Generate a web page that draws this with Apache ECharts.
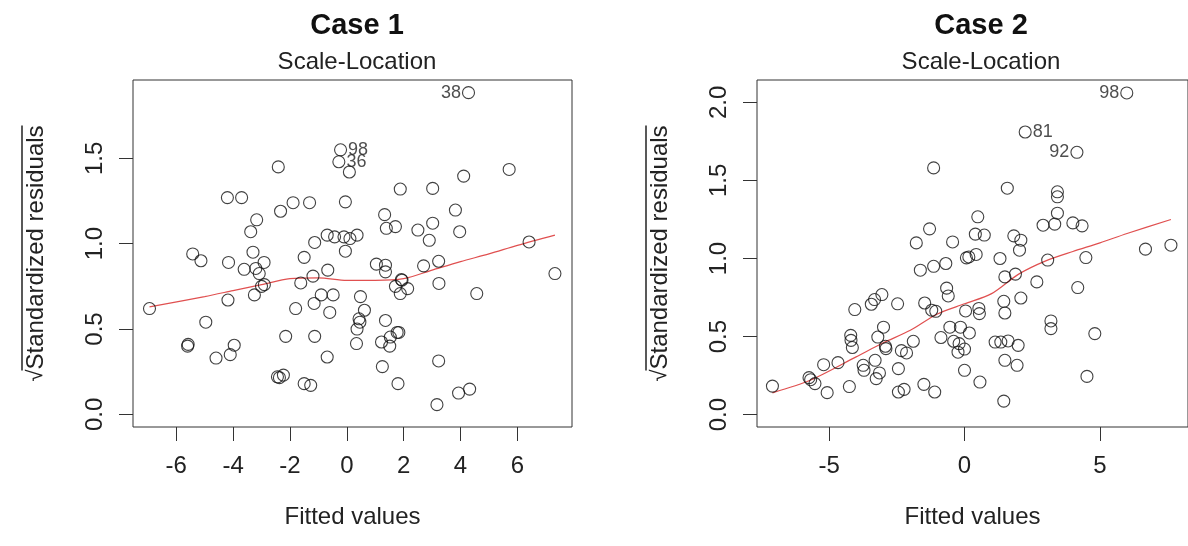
<!DOCTYPE html>
<html>
<head>
<meta charset="utf-8">
<script src="https://cdn.jsdelivr.net/npm/echarts@6/dist/echarts.min.js"></script>
<style>
  html, body { margin: 0; padding: 0; background: #fff; }
  #chart { width: 1188px; height: 546px; }
</style>
</head>
<body>
<div id="chart"></div>
<script>
// Case 1: fitted values vs sqrt(|standardized residuals|)
const case1Fitted = [-6.94, -5.60, -5.58, -5.42, -5.13, -4.96, -4.60, -4.20, -4.18, -4.16,
  -4.10, -3.96, -3.70, -3.61, -3.38, -3.30, -3.25, -3.20, -3.17, -3.08,
  -2.91, -2.90, -3.00, -2.44, -2.37, -2.23, -2.41, -2.33, -2.15, -1.89,
  -1.80, -1.62, -1.50, -1.50, -1.31, -1.27, -1.19, -1.15, -1.13, -1.13,
  -0.90, -0.69, -0.69, -0.67, -0.60, -0.48, -0.43, -0.22, -0.28, 0.09,
  -0.10, -0.05, -0.05, 0.11, 0.36, 0.48, 0.62, 0.43, 0.46, 0.36,
  0.34, 1.04, 1.36, 1.36, 1.33, 1.39, 1.71, 1.36, 1.22, 1.53,
  1.51, 1.77, 1.83, 1.25, 1.80, 1.71, 1.94, 1.88, 1.92, 2.14,
  1.88, 2.50, 2.70, 2.90, 3.02, 3.02, 3.23, 3.24, 3.23, 3.17,
  3.82, 3.97, 3.93, 4.11, 4.28, 4.32, 4.57, 5.71, 6.41, 7.32];
const case1Resid = [0.62, 0.40, 0.41, 0.94, 0.90, 0.54, 0.33, 1.27, 0.67, 0.89,
  0.35, 0.405, 1.27, 0.85, 1.07, 0.95, 0.70, 0.855, 1.14, 0.825,
  0.89, 0.76, 0.75, 0.22, 0.215, 0.23, 1.45, 1.19, 0.457, 1.24,
  0.62, 0.77, 0.92, 0.18, 1.24, 0.17, 0.81, 0.65, 1.007, 0.457,
  0.70, 1.05, 0.336, 0.845, 0.597, 0.70, 1.04, 1.55, 1.48, 1.42,
  1.04, 1.245, 0.956, 1.03, 1.05, 0.69, 0.61, 0.56, 0.54, 0.50,
  0.415, 0.88, 0.874, 0.835, 1.17, 1.09, 1.10, 0.55, 0.424, 0.453,
  0.40, 0.48, 0.48, 0.28, 0.18, 0.75, 0.786, 0.708, 0.79, 0.737,
  1.32, 1.08, 0.87, 1.02, 1.12, 1.324, 0.897, 0.767, 0.313, 0.057,
  1.197, 1.07, 0.125, 1.396, 1.885, 0.148, 0.708, 1.435, 1.01, 0.825];
const case1Ids = [[47, '98', 'right'], [48, '36', 'right'], [94, '38', 'left']];
const case1SmoothX = [-6.94, -5, -4, -3, -2, -1, 0, 1, 2, 3, 4, 5, 6, 7.32];
const case1SmoothY = [0.63, 0.69, 0.725, 0.76, 0.795, 0.80, 0.785, 0.785, 0.795, 0.845, 0.895, 0.94, 0.99, 1.05];

// Case 2
const case2Fitted = [-7.09, -5.74, -5.68, -5.52, -5.07, -5.20, -4.67, -4.25, -4.05, -4.20,
  -4.19, -4.14, -3.74, -3.71, -3.30, -3.14, -3.26, -3.44, -3.32, -3.05,
  -2.99, -3.20, -2.92, -2.90, -2.47, -2.33, -2.14, -1.89, -2.44, -2.44,
  -2.23, -1.50, -1.10, -1.47, -1.21, -1.06, -0.66, -0.60, -0.87, -0.54,
  -0.15, -0.40, -0.24, 0.00, -0.20, -1.14, -1.29, -1.78, -0.44, -1.14,
  -0.69, 0.07, -1.63, 5.99, 2.24, 4.15, 1.58, 3.43, 3.43, 3.43,
  2.90, 3.33, 4.00, 4.34, 0.49, 0.40, 0.73, 1.82, 2.08, 2.03,
  0.16, 0.43, 1.31, 3.07, 4.48, 6.68, 7.62, 1.49, 1.88, 2.67,
  4.18, 2.08, 1.45, 1.49, 0.04, 0.53, 0.55, 3.19, 3.19, 4.81,
  0.18, 1.13, 1.34, 1.61, 1.98, 1.49, 1.94, 0.00, 0.57, 4.52,
  1.45];
const case2Resid = [0.183, 0.237, 0.224, 0.199, 0.141, 0.32, 0.333, 0.18, 0.673, 0.508,
  0.476, 0.43, 0.316, 0.284, 0.348, 0.267, 0.231, 0.707, 0.737, 0.769,
  0.56, 0.497, 0.438, 0.423, 0.71, 0.41, 0.395, 0.47, 0.295, 0.145,
  0.162, 0.194, 0.145, 0.715, 0.669, 0.662, 0.81, 0.76, 0.494, 0.56,
  0.56, 0.47, 0.40, 0.42, 0.455, 1.58, 1.19, 1.10, 1.106, 0.95,
  0.968, 1.004, 0.925, 2.06, 1.81, 1.68, 1.45, 1.427, 1.395, 1.29,
  1.213, 1.22, 1.228, 1.209, 1.267, 1.156, 1.15, 1.145, 1.117, 1.053,
  1.01, 1.026, 1.0, 0.99, 1.006, 1.06, 1.085, 0.882, 0.9, 0.85,
  0.814, 0.747, 0.726, 0.651, 0.664, 0.68, 0.647, 0.6, 0.551, 0.519,
  0.523, 0.465, 0.465, 0.472, 0.444, 0.348, 0.316, 0.284, 0.209, 0.245,
  0.087];
const case2Ids = [[53, '98', 'left'], [54, '81', 'right'], [55, '92', 'left']];
const case2SmoothX = [-7.09, -5.7, -4, -3, -2, -1, 0, 1, 2, 3, 4, 5, 6, 7.62];
const case2SmoothY = [0.14, 0.22, 0.37, 0.46, 0.54, 0.645, 0.71, 0.775, 0.90, 0.985, 1.045, 1.10, 1.16, 1.25];

const xTicks1 = [-6, -4, -2, 0, 2, 4, 6];
const yTicks1 = [0, 0.5, 1, 1.5];
const xTicks2 = [-5, 0, 5];
const yTicks2 = [0, 0.5, 1, 1.5, 2];

const FONT = '"Liberation Sans", Arial, sans-serif';
const ctx = document.createElement('canvas').getContext('2d');
function measure(s, size) {
  ctx.font = size + 'px ' + FONT;
  return ctx.measureText(s).width;
}
const wRoot = measure('\u221A', 22);
const wText = measure('Standardized residuals', 24);

function points(xs, ys, ids) {
  const data = xs.map((x, i) => [x, ys[i]]);
  ids.forEach(([i, name, pos]) => {
    data[i] = {
      value: data[i],
      label: { show: true, formatter: name, position: pos, distance: 1, fontSize: 18, color: '#222', fontFamily: FONT }
    };
  });
  return data;
}

function xAxisFor(gi, min, max, ticks) {
  return {
    type: 'value', gridIndex: gi, min: min, max: max,
    name: 'Fitted values', nameLocation: 'middle', nameGap: 78,
    nameTextStyle: { fontSize: 24, color: '#222', fontFamily: FONT },
    axisLine: { show: false, onZero: false },
    axisTick: { show: true, length: 14, customValues: ticks, lineStyle: { color: '#333' } },
    axisLabel: { customValues: ticks, margin: 27, fontSize: 24, color: '#222', fontFamily: FONT },
    splitLine: { show: false }
  };
}

function yAxisFor(gi, min, max, ticks) {
  return {
    type: 'value', gridIndex: gi, min: min, max: max,
    name: '{gap| }{bar| }\n{root|\u221A}{txt|Standardized residuals}',
    nameLocation: 'middle', nameRotate: 90, nameGap: 84,
    nameTextStyle: {
      color: '#222', fontFamily: FONT,
      rich: {
        gap: { width: wRoot - 1, height: 1.5, lineHeight: 2 },
        bar: { width: wText + 1, height: 1.5, lineHeight: 2, backgroundColor: '#222' },
        root: { fontSize: 22, lineHeight: 26, color: '#222', fontFamily: FONT },
        txt: { fontSize: 24, lineHeight: 26, color: '#222', fontFamily: FONT }
      }
    },
    axisLine: { show: false, onZero: false },
    axisTick: { show: true, length: 14, customValues: ticks, lineStyle: { color: '#333' } },
    axisLabel: {
      customValues: ticks, rotate: 90, margin: 26, fontSize: 24, color: '#222', fontFamily: FONT,
      formatter: v => v.toFixed(1)
    },
    splitLine: { show: false }
  };
}

function scatter(gi, xs, ys, ids) {
  return {
    type: 'scatter', xAxisIndex: gi, yAxisIndex: gi,
    data: points(xs, ys, ids),
    symbol: 'circle', symbolSize: 12,
    itemStyle: { color: 'rgba(0,0,0,0)', borderColor: '#111', borderWidth: 1.1 },
    emphasis: { disabled: true },
    z: 3
  };
}

function smooth(gi, xs, ys) {
  return {
    type: 'line', xAxisIndex: gi, yAxisIndex: gi,
    data: xs.map((x, i) => [x, ys[i]]),
    showSymbol: false, smooth: 0.3,
    lineStyle: { color: '#e05050', width: 1.2 },
    z: 2
  };
}

const chart = echarts.init(document.getElementById('chart'), null, { renderer: 'canvas' });
chart.setOption({
  backgroundColor: '#fff',
  animation: false,
  textStyle: { fontFamily: FONT },
  title: [
    { text: 'Case 1', left: 352, top: 6, textAlign: 'center',
      textStyle: { fontSize: 29, fontWeight: 'bold', color: '#111', fontFamily: FONT } },
    { text: 'Scale-Location', left: 352, top: 45, textAlign: 'center',
      textStyle: { fontSize: 24, fontWeight: 'normal', color: '#222', fontFamily: FONT } },
    { text: 'Case 2', left: 976, top: 6, textAlign: 'center',
      textStyle: { fontSize: 29, fontWeight: 'bold', color: '#111', fontFamily: FONT } },
    { text: 'Scale-Location', left: 976, top: 45, textAlign: 'center',
      textStyle: { fontSize: 24, fontWeight: 'normal', color: '#222', fontFamily: FONT } }
  ],
  grid: [
    { left: 133, top: 80, width: 439, height: 347, show: true, borderColor: '#333', borderWidth: 1, backgroundColor: 'transparent' },
    { left: 757, top: 80, width: 439, height: 347, show: true, borderColor: '#333', borderWidth: 1, backgroundColor: 'transparent' }
  ],
  xAxis: [
    xAxisFor(0, -7.52, 7.92, xTicks1),
    xAxisFor(1, -7.66, 8.25, xTicks2)
  ],
  yAxis: [
    yAxisFor(0, -0.074, 1.959, yTicks1),
    yAxisFor(1, -0.079, 2.143, yTicks2)
  ],
  series: [
    smooth(0, case1SmoothX, case1SmoothY),
    scatter(0, case1Fitted, case1Resid, case1Ids),
    smooth(1, case2SmoothX, case2SmoothY),
    scatter(1, case2Fitted, case2Resid, case2Ids)
  ]
});
</script>
</body>
</html>
